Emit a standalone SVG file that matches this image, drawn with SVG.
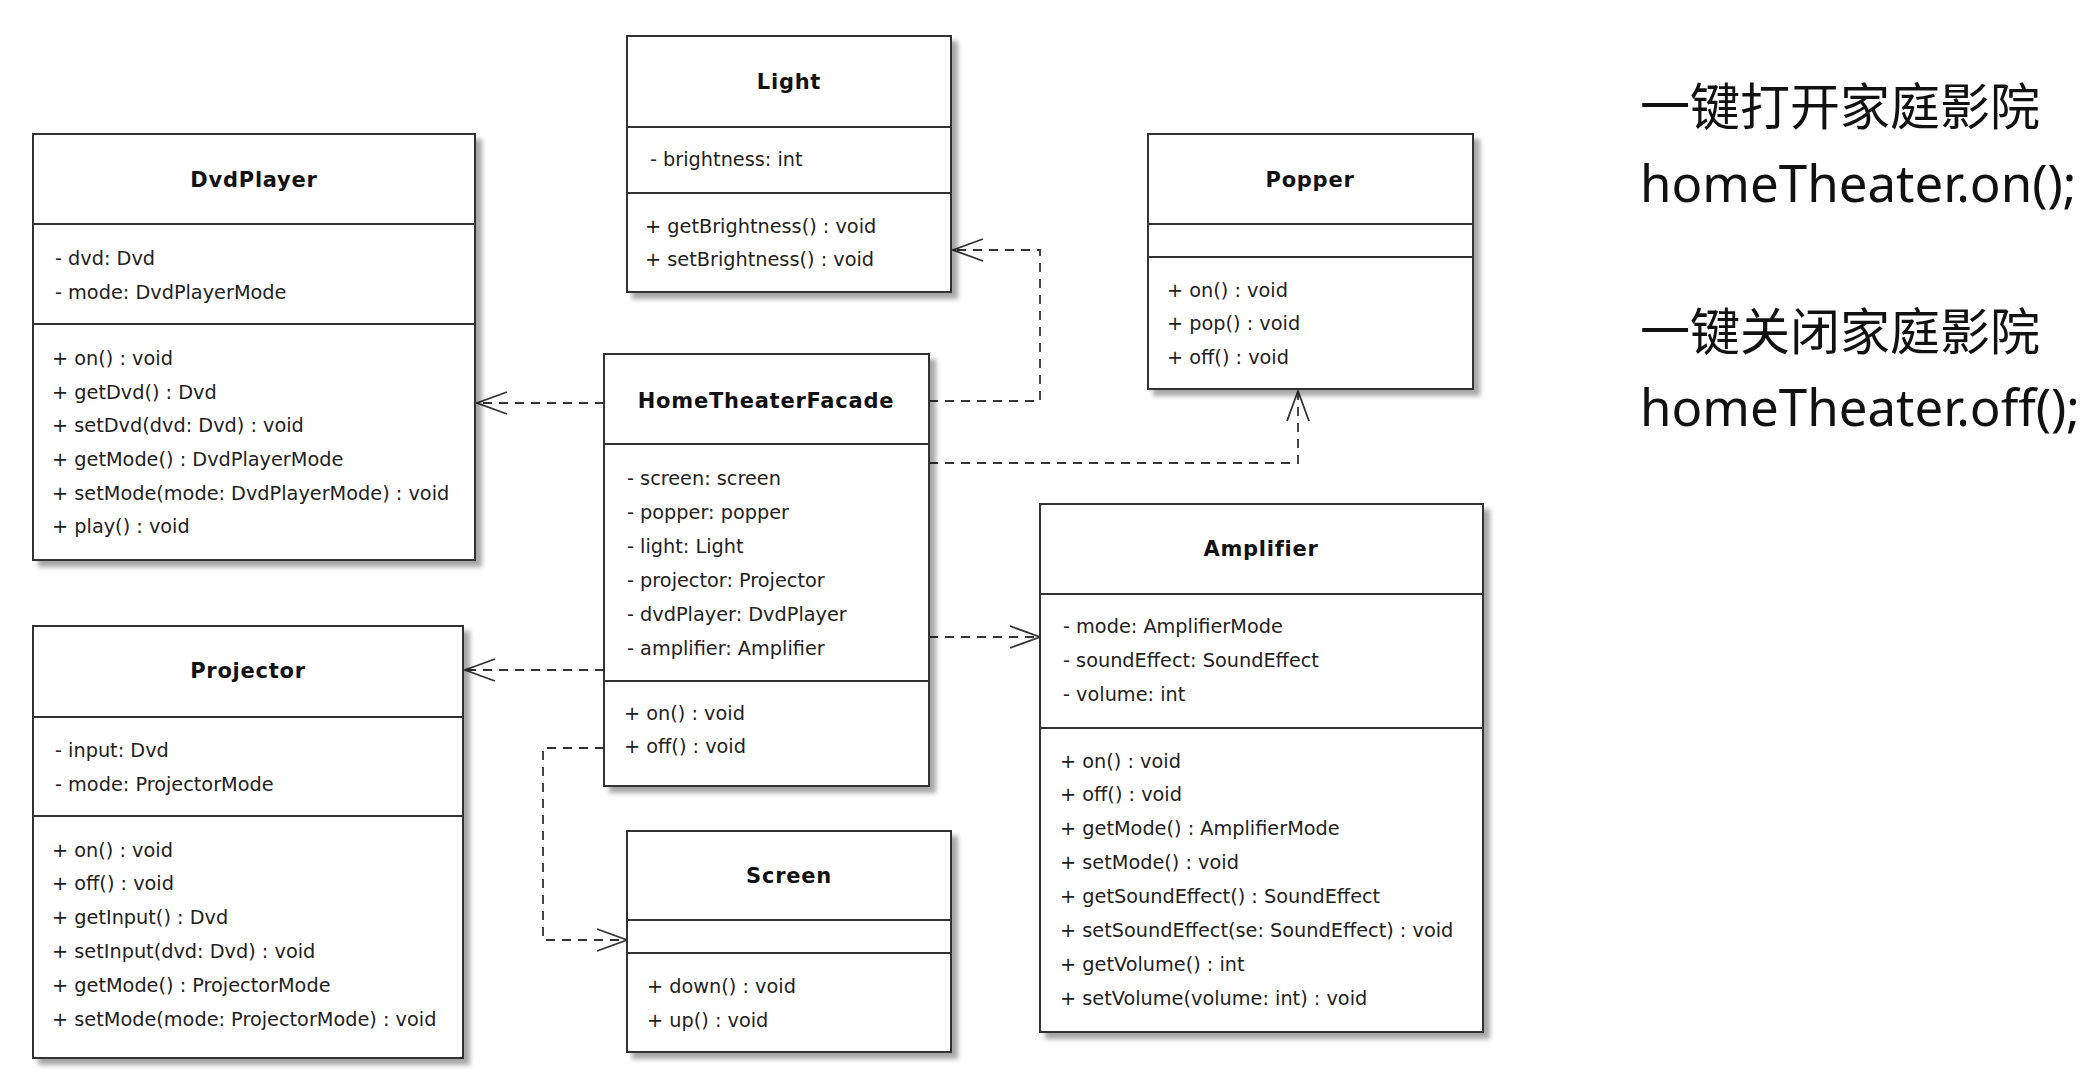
<svg xmlns="http://www.w3.org/2000/svg" width="2090" height="1088" viewBox="0 0 2090 1088">
<defs>
<filter id="sh" x="-5%" y="-5%" width="115%" height="115%">
<feGaussianBlur in="SourceAlpha" stdDeviation="2.5"/>
<feOffset dx="6" dy="6" result="o"/>
<feComponentTransfer><feFuncA type="linear" slope="0.35"/></feComponentTransfer>
<feMerge><feMergeNode/><feMergeNode in="SourceGraphic"/></feMerge>
</filter>
<marker id="arr" markerUnits="userSpaceOnUse" markerWidth="40" markerHeight="30" viewBox="-34 -15 40 30" refX="0" refY="0" orient="auto">
<path d="M-30,-11 L0,0 L-30,11" fill="none" stroke="#333" stroke-width="1.8" stroke-dasharray="none"/>
</marker>
</defs>
<style>
.box{fill:#fff;stroke:#333;stroke-width:2;filter:url(#sh)}
.div{stroke:#333;stroke-width:2}
.t{font-family:"DejaVu Sans",sans-serif;font-size:21px;font-weight:bold;fill:#111;text-anchor:middle;letter-spacing:0.75px}
.m{font-family:"DejaVu Sans",sans-serif;font-size:19.3px;fill:#222}
.side{font-family:"Noto Sans","Noto Sans CJK SC",sans-serif;font-size:50px;fill:#111}
.lat{font-size:51px}
.con{fill:none;stroke:#333;stroke-width:1.8;stroke-dasharray:9 7;marker-end:url(#arr)}
</style>
<rect width="2090" height="1088" fill="#fff"/>

<g id="connectors">
<path class="con" d="M604,403 H477"/>
<path class="con" d="M929,401 H1040 V250 H953"/>
<path class="con" d="M929,463 H1298 V391"/>
<path class="con" d="M929,637 H1040"/>
<path class="con" d="M604,670 H465"/>
<path class="con" d="M604,748 H543 V940 H627"/>
</g>

<g id="DvdPlayer">
<rect class="box" x="33" y="134" width="442" height="426"/>
<line class="div" x1="33" y1="224" x2="475" y2="224"/>
<line class="div" x1="33" y1="324" x2="475" y2="324"/>
<text class="t" x="254" y="187">DvdPlayer</text>
<text class="m" x="55" y="265">- dvd: Dvd</text>
<text class="m" x="55" y="299">- mode: DvdPlayerMode</text>
<text class="m" x="52" y="365">+ on() : void</text>
<text class="m" x="52" y="399">+ getDvd() : Dvd</text>
<text class="m" x="52" y="432">+ setDvd(dvd: Dvd) : void</text>
<text class="m" x="52" y="466">+ getMode() : DvdPlayerMode</text>
<text class="m" x="52" y="500">+ setMode(mode: DvdPlayerMode) : void</text>
<text class="m" x="52" y="533">+ play() : void</text>
</g>

<g id="Light">
<rect class="box" x="627" y="36" width="324" height="256"/>
<line class="div" x1="627" y1="127" x2="951" y2="127"/>
<line class="div" x1="627" y1="193" x2="951" y2="193"/>
<text class="t" x="789" y="89">Light</text>
<text class="m" x="650" y="166">- brightness: int</text>
<text class="m" x="645" y="233">+ getBrightness() : void</text>
<text class="m" x="645" y="266">+ setBrightness() : void</text>
</g>

<g id="Popper">
<rect class="box" x="1148" y="134" width="325" height="255"/>
<line class="div" x1="1148" y1="224" x2="1473" y2="224"/>
<line class="div" x1="1148" y1="257" x2="1473" y2="257"/>
<text class="t" x="1310" y="187">Popper</text>
<text class="m" x="1167" y="297">+ on() : void</text>
<text class="m" x="1167" y="330">+ pop() : void</text>
<text class="m" x="1167" y="364">+ off() : void</text>
</g>

<g id="HomeTheaterFacade">
<rect class="box" x="604" y="354" width="325" height="432"/>
<line class="div" x1="604" y1="444" x2="929" y2="444"/>
<line class="div" x1="604" y1="681" x2="929" y2="681"/>
<text class="t" x="766" y="408">HomeTheaterFacade</text>
<text class="m" x="627" y="485">- screen: screen</text>
<text class="m" x="627" y="519">- popper: popper</text>
<text class="m" x="627" y="553">- light: Light</text>
<text class="m" x="627" y="587">- projector: Projector</text>
<text class="m" x="627" y="621">- dvdPlayer: DvdPlayer</text>
<text class="m" x="627" y="655">- amplifier: Amplifier</text>
<text class="m" x="624" y="720">+ on() : void</text>
<text class="m" x="624" y="753">+ off() : void</text>
</g>

<g id="Projector">
<rect class="box" x="33" y="626" width="430" height="432"/>
<line class="div" x1="33" y1="717" x2="463" y2="717"/>
<line class="div" x1="33" y1="816" x2="463" y2="816"/>
<text class="t" x="248" y="678">Projector</text>
<text class="m" x="55" y="757">- input: Dvd</text>
<text class="m" x="55" y="791">- mode: ProjectorMode</text>
<text class="m" x="52" y="857">+ on() : void</text>
<text class="m" x="52" y="890">+ off() : void</text>
<text class="m" x="52" y="924">+ getInput() : Dvd</text>
<text class="m" x="52" y="958">+ setInput(dvd: Dvd) : void</text>
<text class="m" x="52" y="992">+ getMode() : ProjectorMode</text>
<text class="m" x="52" y="1026">+ setMode(mode: ProjectorMode) : void</text>
</g>

<g id="Amplifier">
<rect class="box" x="1040" y="504" width="443" height="528"/>
<line class="div" x1="1040" y1="594" x2="1483" y2="594"/>
<line class="div" x1="1040" y1="728" x2="1483" y2="728"/>
<text class="t" x="1261" y="556">Amplifier</text>
<text class="m" x="1063" y="633">- mode: AmplifierMode</text>
<text class="m" x="1063" y="667">- soundEffect: SoundEffect</text>
<text class="m" x="1063" y="701">- volume: int</text>
<text class="m" x="1060" y="768">+ on() : void</text>
<text class="m" x="1060" y="801">+ off() : void</text>
<text class="m" x="1060" y="835">+ getMode() : AmplifierMode</text>
<text class="m" x="1060" y="869">+ setMode() : void</text>
<text class="m" x="1060" y="903">+ getSoundEffect() : SoundEffect</text>
<text class="m" x="1060" y="937">+ setSoundEffect(se: SoundEffect) : void</text>
<text class="m" x="1060" y="971">+ getVolume() : int</text>
<text class="m" x="1060" y="1005">+ setVolume(volume: int) : void</text>
</g>

<g id="Screen">
<rect class="box" x="627" y="831" width="324" height="221"/>
<line class="div" x1="627" y1="920" x2="951" y2="920"/>
<line class="div" x1="627" y1="953" x2="951" y2="953"/>
<text class="t" x="789" y="883">Screen</text>
<text class="m" x="647" y="993">+ down() : void</text>
<text class="m" x="647" y="1027">+ up() : void</text>
</g>

<g id="notes">
<text class="side" x="1640" y="125">一键打开家庭影院</text>
<text class="side lat" x="1640" y="202">homeTheater.on();</text>
<text class="side" x="1640" y="350">一键关闭家庭影院</text>
<text class="side lat" x="1640" y="426">homeTheater.off();</text>
</g>
</svg>
